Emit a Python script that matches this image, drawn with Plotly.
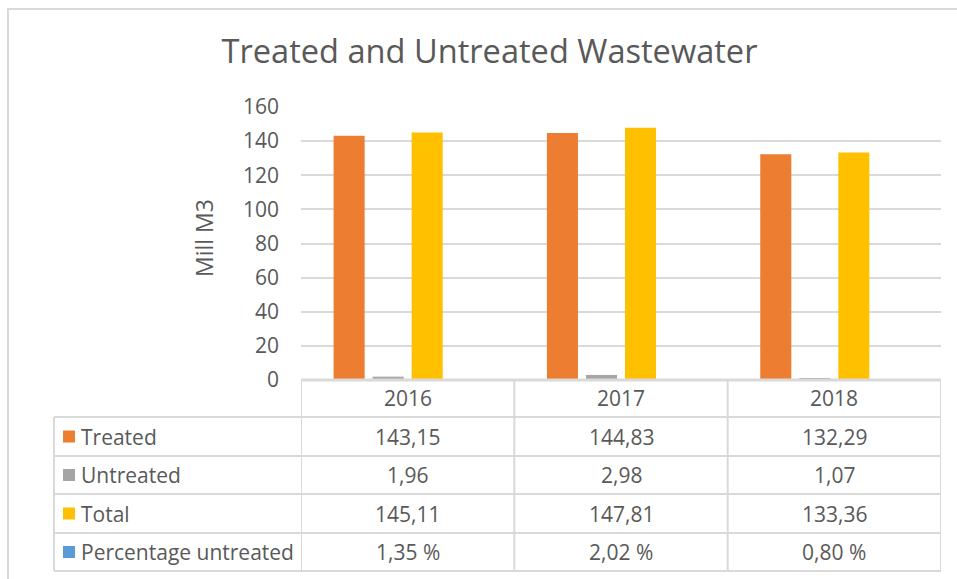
import plotly.graph_objects as go

years = ["2016", "2017", "2018"]
treated = [143.15, 144.83, 132.29]
untreated = [1.96, 2.98, 1.07]
total = [145.11, 147.81, 133.36]
pct_untreated = [1.35, 2.02, 0.80]  # percent
y_ticks = [0, 20, 40, 60, 80, 100, 120, 140, 160]

series = [
    ("Treated", treated, "#ED7D31", False),
    ("Untreated", untreated, "#A5A5A5", False),
    ("Total", total, "#FFC000", False),
    ("Percentage untreated", [v / 100 for v in pct_untreated], "#5B9BD5", True),
]

W, H = 957, 579
L, R, T, B = 301, 941, 107, 380
FONT = "Open Sans"
TXT = "#595959"
GRID = "#D9D9D9"
FS = 21


def px(x):
    return (x - L) / (R - L)


def py(y):
    return (B - y) / (B - T)


fig = go.Figure()
for name, vals, color, _ in series:
    fig.add_trace(go.Bar(x=years, y=vals, name=name, marker=dict(color=color, line=dict(width=0))))

shapes = []
annotations = []

# outer chart border
shapes.append(dict(type="line", xref="paper", yref="paper", x0=px(7), x1=px(W + 5), y0=py(9), y1=py(9),
                   line=dict(color=GRID, width=2)))
shapes.append(dict(type="line", xref="paper", yref="paper", x0=px(8), x1=px(8), y0=py(9), y1=py(H + 5),
                   line=dict(color=GRID, width=2)))

# data table grid (top edge = axis baseline)
shapes.append(dict(type="line", xref="paper", yref="paper", x0=0, x1=1, y0=0, y1=0,
                   line=dict(color=GRID, width=3)))
row_edges = [417, 456, 494, 533, 571]
for ry in row_edges:
    shapes.append(dict(type="line", xref="paper", yref="paper", x0=px(54), x1=1, y0=py(ry), y1=py(ry),
                       line=dict(color=GRID, width=2)))
for cx in [-0.5, 0.5, 1.5, 2.5]:
    shapes.append(dict(type="line", xref="x", yref="paper", x0=cx, x1=cx, y0=0, y1=py(571),
                       line=dict(color=GRID, width=2)))
shapes.append(dict(type="line", xref="paper", yref="paper", x0=px(54), x1=px(54), y0=py(417), y1=py(571),
                   line=dict(color=GRID, width=2)))

row_centers = [436.5, 475, 513.5, 552]
for (name, vals, color, is_pct), rc in zip(series, row_centers):
    shapes.append(dict(type="rect", xref="paper", yref="paper", x0=px(63), x1=px(75),
                       y0=py(rc - 6), y1=py(rc + 6), fillcolor=color, line=dict(width=0)))
    annotations.append(dict(xref="paper", yref="paper", x=px(79), y=py(rc), text=name, showarrow=False,
                            xanchor="left", yanchor="middle", font=dict(family=FONT, size=FS, color=TXT)))
    raw = pct_untreated if is_pct else vals
    for i, v in enumerate(raw):
        t = f"{v:.2f}".replace(".", ",")
        if is_pct:
            t += " %"
        annotations.append(dict(xref="x", yref="paper", x=i, y=py(rc), text=t, showarrow=False,
                                xanchor="center", yanchor="middle", font=dict(family=FONT, size=FS, color=TXT)))

# header years
for i, yr in enumerate(years):
    annotations.append(dict(xref="x", yref="paper", x=i, y=py(398), text=yr, showarrow=False,
                            xanchor="center", yanchor="middle", font=dict(family=FONT, size=FS, color=TXT)))

# y axis title
annotations.append(dict(xref="paper", yref="paper", x=px(204), y=py(238), text="Mill M3", showarrow=False,
                        textangle=-90, xanchor="center", yanchor="middle",
                        font=dict(family=FONT, size=23, color=TXT)))

fig.update_layout(
    width=W, height=H,
    margin=dict(l=L, r=W - R, t=T, b=H - B, pad=0),
    paper_bgcolor="white", plot_bgcolor="white",
    title=dict(text="Treated and Untreated Wastewater", x=489.5 / W, xanchor="center",
               y=1 - 52 / H, yanchor="middle", font=dict(family=FONT, size=32.6, color=TXT)),
    showlegend=False,
    barmode="group", bargap=0.268, bargroupgap=0.205,
    xaxis=dict(type="category", range=[-0.5, 2.5], showticklabels=False, showgrid=False,
               showline=False, zeroline=False, ticks=""),
    yaxis=dict(range=[0, 160], tickvals=y_ticks, showgrid=True, gridcolor=GRID, gridwidth=1.5,
               zeroline=False, showline=False, ticks="", ticklabelstandoff=21,
               tickfont=dict(family=FONT, size=FS, color=TXT)),
    shapes=shapes, annotations=annotations,
    font=dict(family=FONT, color=TXT),
)

fig.write_html("out.html", config={"displayModeBar": False},
               post_script="document.body.style.margin='0';document.body.style.overflow='hidden';")
